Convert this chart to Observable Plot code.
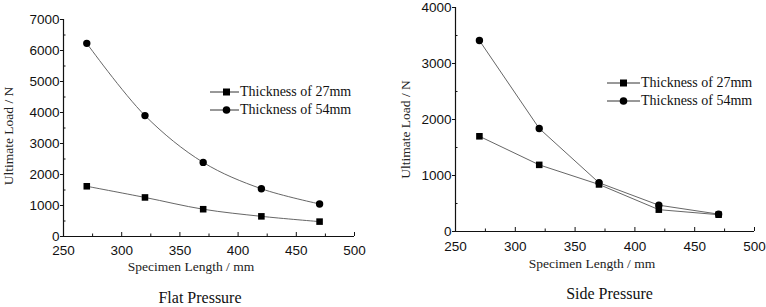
<!DOCTYPE html>
<html>
<head>
<meta charset="utf-8">
<script src="https://cdn.jsdelivr.net/npm/d3@7"></script>
<script src="https://cdn.jsdelivr.net/npm/@observablehq/plot@0.6"></script>
<style>
  body { margin: 0; background: #fff; }
  #wrap { position: relative; width: 766px; height: 307px; overflow: hidden; background: #fff; }
  .panel { position: absolute; top: 0; height: 307px; }
  .panel svg { font-family: "Liberation Sans", Arial, sans-serif; overflow: visible; }
  .caption { position: absolute; width: 100%; text-align: center; font-family: "Liberation Serif", "Times New Roman", serif; font-size: 16px; color: #111; }
  .legend { position: absolute; font-family: "Liberation Serif", "Times New Roman", serif; font-size: 14px; color: #111; line-height: 18px; }
  .legend div { display: flex; align-items: center; white-space: nowrap; }
  .legend svg { margin-right: 1px; }
</style>
</head>
<body>
<div id="wrap">
  <div class="panel" id="left" style="left:0;width:380px"></div>
  <div class="panel" id="right" style="left:385px;width:381px"></div>
</div>
<script>
// ---- data ----
const lengths = [270, 320, 370, 420, 470];
const seriesNames = ["Thickness of 27mm", "Thickness of 54mm"];
const flat27 = [1620, 1260, 880, 650, 480];
const flat54 = [6230, 3900, 2390, 1540, 1050];
const side27 = [1700, 1190, 840, 390, 300];
const side54 = [3410, 1840, 870, 470, 310];
const xTicks = [250, 300, 350, 400, 450, 500];
const xMinor = [275, 325, 375, 425, 475];
const flatYTicks = [0, 1000, 2000, 3000, 4000, 5000, 6000, 7000];
const flatYMinor = [500, 1500, 2500, 3500, 4500, 5500, 6500];
const sideYTicks = [0, 1000, 2000, 3000, 4000];
const sideYMinor = [500, 1500, 2500, 3500];
const captions = ["Flat Pressure", "Side Pressure"];
const xLabel = "Specimen Length / mm";
const yLabel = "Ultimate Load / N";

function rows(a, b) {
  return [
    ...lengths.map((x, i) => ({x, y: a[i], s: seriesNames[0]})),
    ...lengths.map((x, i) => ({x, y: b[i], s: seriesNames[1]}))
  ];
}

const serif = "Liberation Serif, Times New Roman, serif";

function panel(el, cfg) {
  const data = rows(cfg.a, cfg.b);
  const ph = cfg.height - cfg.mt - cfg.mb;
  const pw = cfg.width - cfg.ml - cfg.mr;
  const chart = Plot.plot({
    width: cfg.width, height: cfg.height,
    marginLeft: cfg.ml, marginRight: cfg.mr, marginTop: cfg.mt, marginBottom: cfg.mb,
    style: {fontSize: cfg.fs + "px", color: "#111", background: "transparent"},
    x: {domain: [250, 500]},
    y: {domain: cfg.ydomain},
    symbol: {domain: seriesNames, range: ["square", "circle"]},
    marks: [
      Plot.axisX({ticks: xTicks, tickSize: 0, tickPadding: cfg.xtp, tickFormat: d3.format("d"), label: null}),
      Plot.axisY({ticks: cfg.yticks, tickSize: 3, tickPadding: 1, tickFormat: d3.format("d"), label: null}),
      Plot.text([xLabel], {text: d => d, frameAnchor: "bottom", textAnchor: "middle", dy: cfg.xlo, dx: cfg.xldx, fontFamily: serif, fontSize: 13.5, fill: "#222"}),
      Plot.text([yLabel], {text: d => d, frameAnchor: "left", textAnchor: "middle", rotate: -90, dx: -cfg.ylo, dy: cfg.yldy, fontFamily: serif, fontSize: 13.5, fill: "#222"}),
      Plot.tickX(xTicks, {x: d => d, insetTop: ph - 4, stroke: "#111"}),
      Plot.tickX(xMinor, {x: d => d, insetTop: ph - 2.5, stroke: "#111"}),
      Plot.tickY(cfg.yminor, {y: d => d, insetRight: pw - 2.5, stroke: "#111"}),
      Plot.ruleX([250], {stroke: "#111", strokeWidth: 1.2}),
      Plot.ruleY([cfg.ydomain[0]], {stroke: "#111", strokeWidth: 1.2}),
      Plot.line(data, {x: "x", y: "y", z: "s", stroke: "#555", strokeWidth: 0.9, curve: cfg.curve}),
      Plot.dot(data, {x: "x", y: "y", symbol: "s", fill: "#000", stroke: "none", r: 3.7})
    ]
  });
  el.appendChild(chart);

  const leg = document.createElement("div");
  leg.className = "legend";
  leg.style.left = cfg.legX + "px";
  leg.style.top = cfg.legY + "px";
  seriesNames.forEach((name, i) => {
    const row = document.createElement("div");
    const sym = i === 0
      ? '<rect x="13" y="5.5" width="7" height="7" fill="#000"/>'
      : '<circle cx="16.5" cy="9" r="3.8" fill="#000"/>';
    row.innerHTML = `<svg width="${cfg.legW}" height="18"><line x1="0" y1="9" x2="${cfg.legW}" y2="9" stroke="#333" stroke-width="1"/>${sym}</svg><span>${name}</span>`;
    leg.appendChild(row);
  });
  el.appendChild(leg);

  const cap = document.createElement("div");
  cap.className = "caption";
  cap.style.top = cfg.capY + "px";
  cap.style.left = cfg.capDx + "px";
  cap.textContent = cfg.caption;
  el.appendChild(cap);
}

panel(document.getElementById("left"), {
  a: flat27, b: flat54, width: 380, height: 280, ml: 63, mr: 26, mt: 19, mb: 44,
  ydomain: [0, 7000], yticks: flatYTicks, yminor: flatYMinor, fs: 13.5, xtp: 9,
  xlo: 34, xldx: -18, ylo: 55, yldy: 8, curve: "catmull-rom",
  legX: 210, legY: 83, legW: 29, caption: captions[0], capY: 289, capDx: 10
});
panel(document.getElementById("right"), {
  a: side27, b: side54, width: 381, height: 280, ml: 70, mr: 12, mt: 7, mb: 49,
  ydomain: [0, 4000], yticks: sideYTicks, yminor: sideYMinor, fs: 13.5, xtp: 10,
  xlo: 36, xldx: -13, ylo: 50, yldy: 10, curve: "linear",
  legX: 607 - 385, legY: 74, legW: 33, caption: captions[1], capY: 285, capDx: 34
});
</script>
</body>
</html>
